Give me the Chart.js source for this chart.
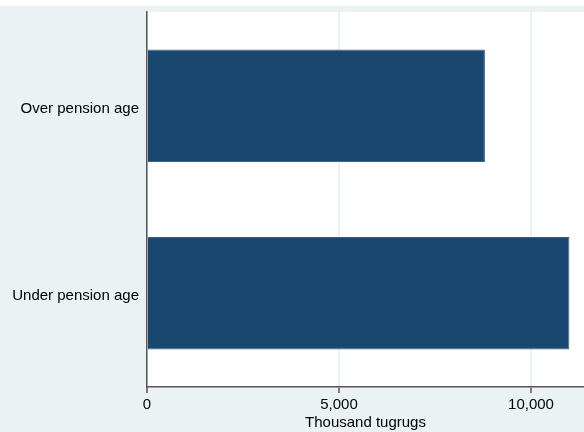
<!DOCTYPE html>
<html>
<head>
<meta charset="utf-8">
<script src="https://cdn.jsdelivr.net/npm/chart.js@4"></script>
<style>
  html, body { margin: 0; padding: 0; background: #ffffff; }
  #wrap { width: 584px; height: 426px; margin-top: 6px; background: #eaf2f3; }
</style>
</head>
<body>
<div id="wrap"><canvas id="chart" width="584" height="426"></canvas></div>
<script>
// data
const categories = ['Over pension age', 'Under pension age'];
const values = [8800, 11000];
const tickValues = [0, 5000, 10000];
const axisTitle = 'Thousand tugrugs';

const FONT = '"Liberation Sans", Arial, Helvetica, sans-serif';

// white plot region
const plotBg = {
    id: 'plotBg',
    beforeDraw(chart) {
        const a = chart.chartArea;
        const ctx = chart.ctx;
        ctx.save();
        ctx.fillStyle = '#ffffff';
        ctx.fillRect(a.left, a.top, a.right - a.left, a.bottom - a.top);
        ctx.restore();
    }
};

new Chart(document.getElementById('chart'), {
    type: 'bar',
    data: {
        labels: categories,
        datasets: [{
            data: values,
            backgroundColor: '#1a476f',
            borderColor: '#3c6285',
            borderWidth: 1,
            borderSkipped: 'start',
            barPercentage: 0.6,
            categoryPercentage: 1.0
        }]
    },
    options: {
        indexAxis: 'y',
        responsive: false,
        animation: false,
        layout: { padding: { top: 6, right: 0, bottom: 0, left: 0 } },
        plugins: {
            legend: { display: false },
            tooltip: { enabled: false }
        },
        scales: {
            x: {
                min: 0,
                max: 11380,
                afterBuildTicks(scale) {
                    scale.ticks = tickValues.map(v => ({ value: v }));
                },
                afterFit(scale) {
                    scale.height = 45;
                    scale.paddingLeft = 0;
                    scale.paddingRight = 0;
                },
                grid: {
                    color: '#eaf2f3',
                    lineWidth: 2,
                    tickColor: '#555555',
                    tickWidth: 1.5,
                    tickLength: 6
                },
                border: { color: '#555555', width: 1.5 },
                ticks: {
                    color: '#000000',
                    padding: 3,
                    maxRotation: 0,
                    font: { family: FONT, size: 15 },
                    callback: v => v.toLocaleString('en-US')
                },
                title: {
                    display: true,
                    text: axisTitle,
                    color: '#000000',
                    padding: { top: 0, bottom: 0 },
                    font: { family: FONT, size: 15 }
                }
            },
            y: {
                afterFit(scale) {
                    scale.width = 147;
                    scale.paddingTop = 0;
                    scale.paddingBottom = 0;
                },
                grid: { display: false, drawTicks: false },
                border: { color: '#555555', width: 1.5 },
                ticks: {
                    color: '#000000',
                    padding: 8,
                    labelOffset: 3,
                    font: { family: FONT, size: 15 }
                }
            }
        }
    },
    plugins: [plotBg]
});
</script>
</body>
</html>
